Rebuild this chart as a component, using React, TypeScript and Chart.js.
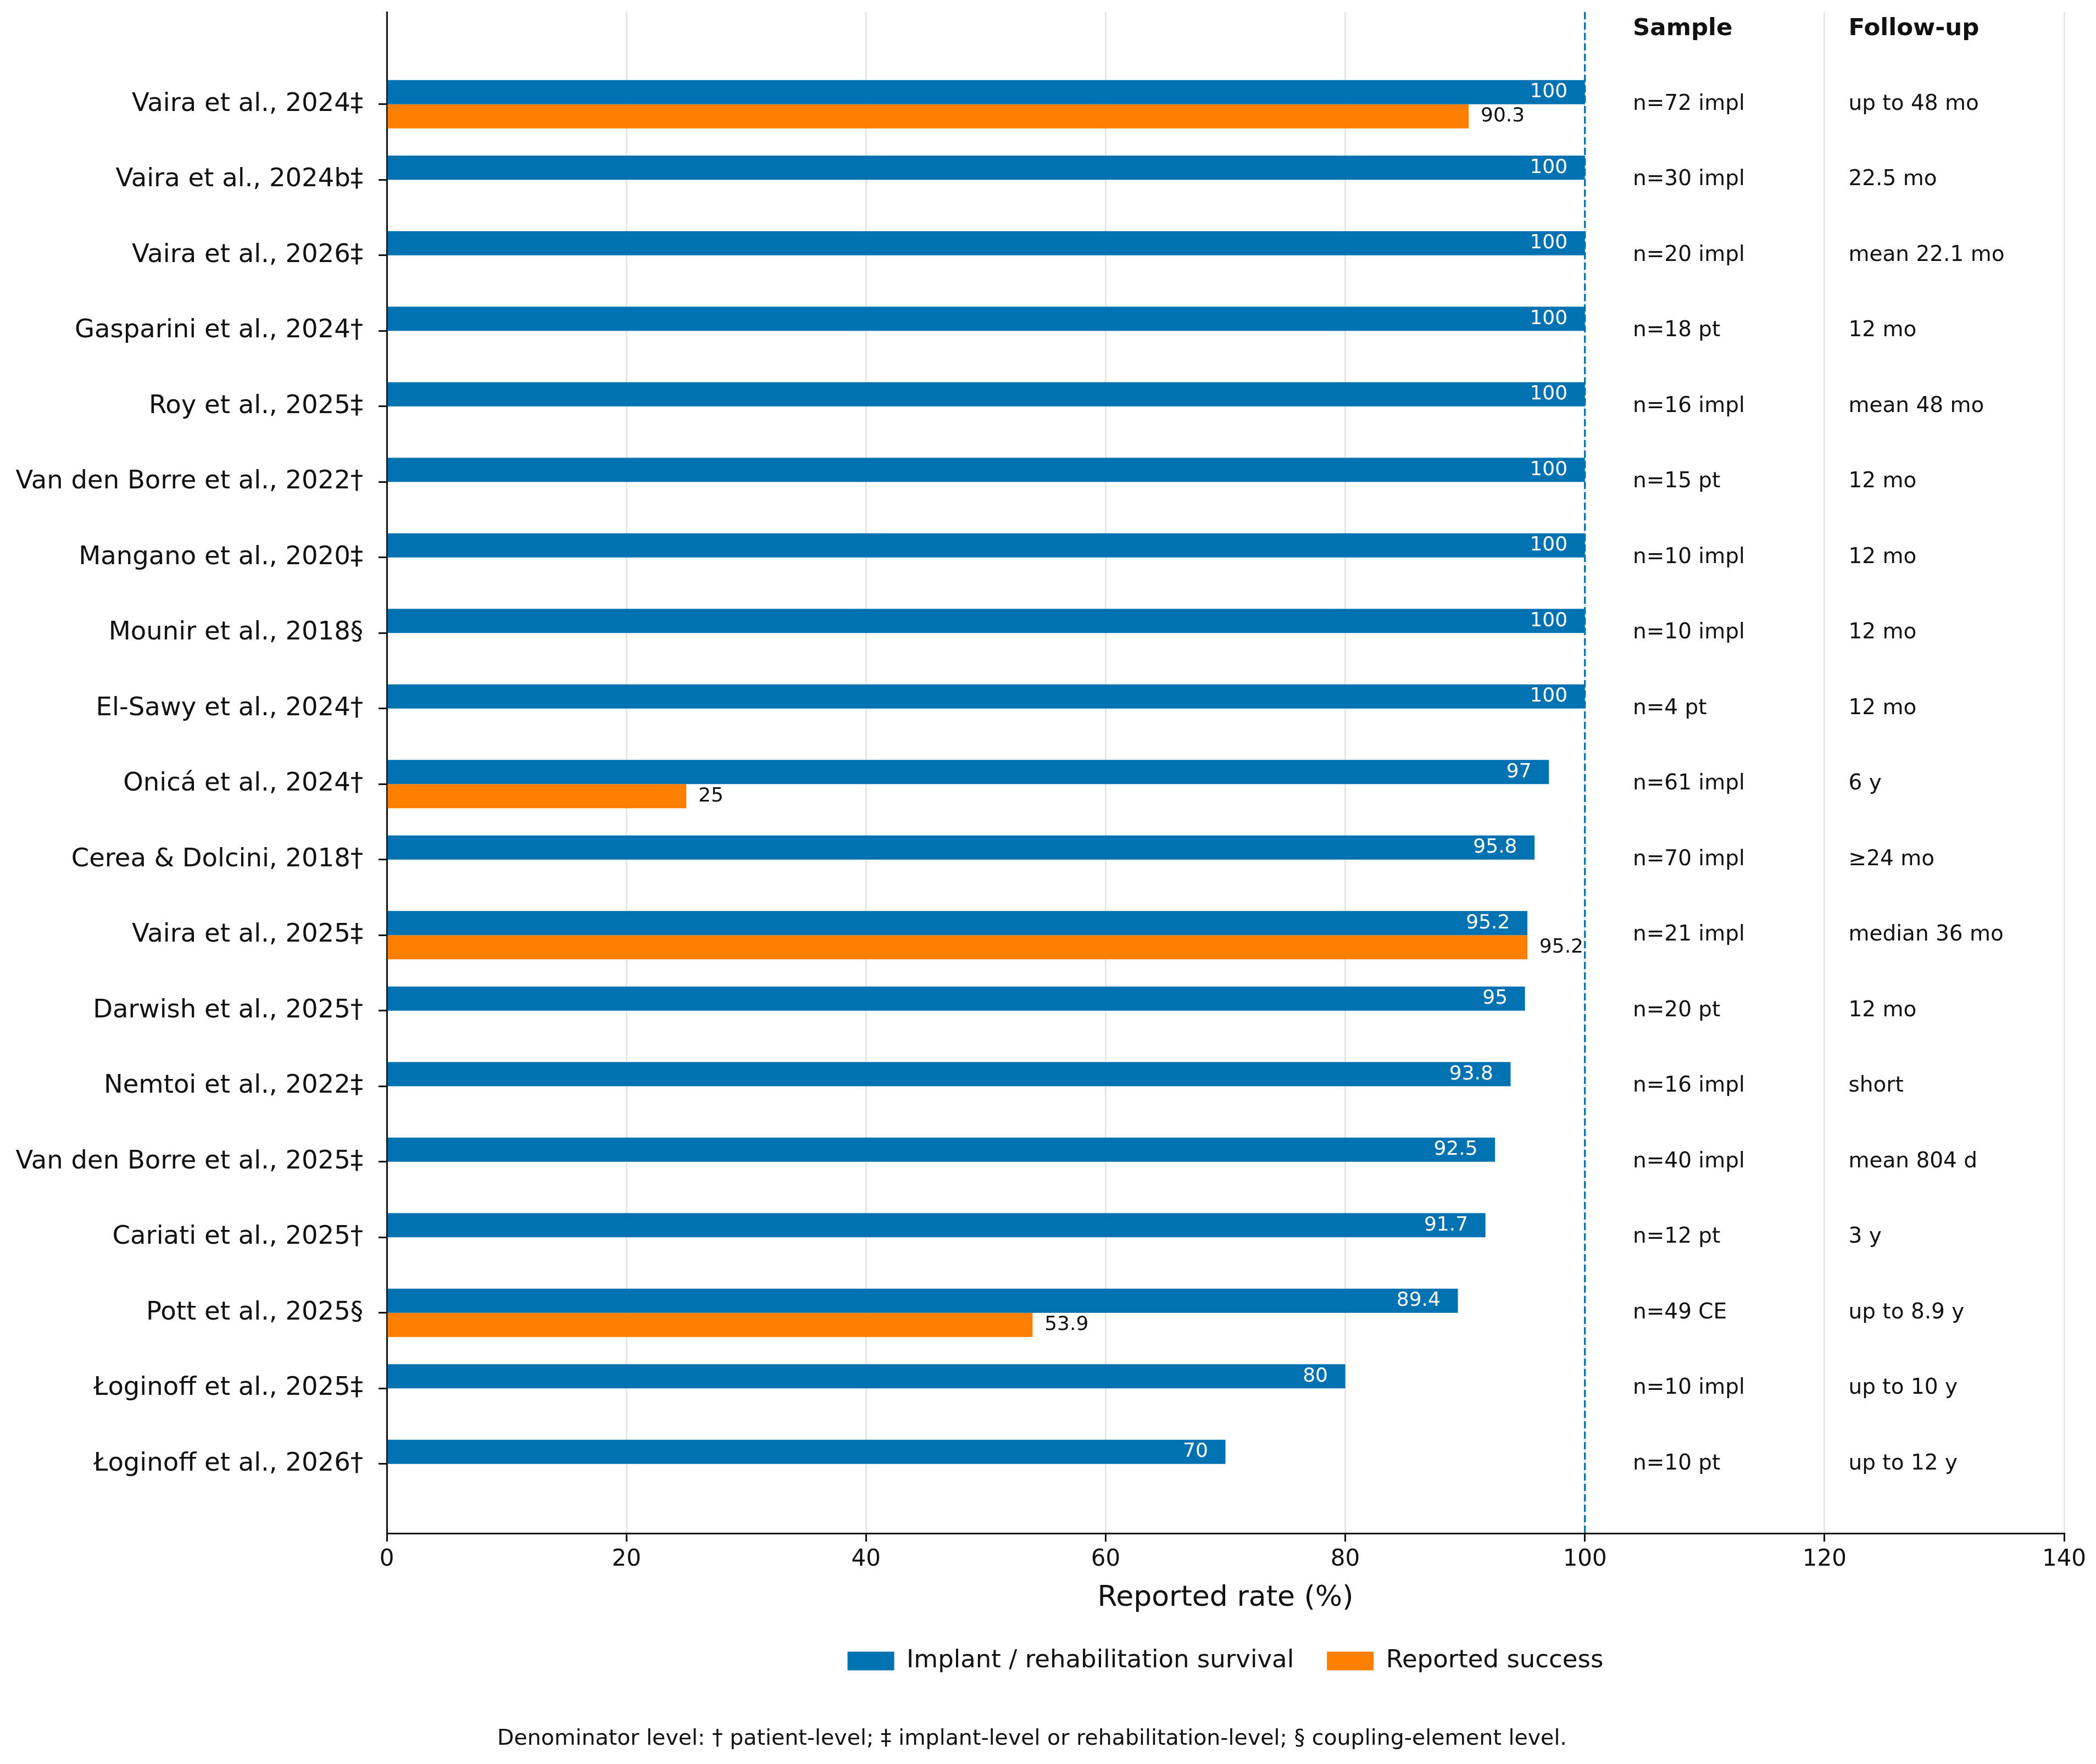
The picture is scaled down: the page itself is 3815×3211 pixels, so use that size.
import React, { useEffect, useRef } from 'react';
import { Chart, registerables } from 'chart.js';

Chart.register(...registerables);

// ---------- data ----------
const studies = [
  'Vaira et al., 2024‡',
  'Vaira et al., 2024b‡',
  'Vaira et al., 2026‡',
  'Gasparini et al., 2024†',
  'Roy et al., 2025‡',
  'Van den Borre et al., 2022†',
  'Mangano et al., 2020‡',
  'Mounir et al., 2018§',
  'El-Sawy et al., 2024†',
  'Onicá et al., 2024†',
  'Cerea & Dolcini, 2018†',
  'Vaira et al., 2025‡',
  'Darwish et al., 2025†',
  'Nemtoi et al., 2022‡',
  'Van den Borre et al., 2025‡',
  'Cariati et al., 2025†',
  'Pott et al., 2025§',
  'Łoginoff et al., 2025‡',
  'Łoginoff et al., 2026†',
];

const survivalRates = [100, 100, 100, 100, 100, 100, 100, 100, 100, 97, 95.8, 95.2, 95, 93.8, 92.5, 91.7, 89.4, 80, 70];

const successRates: (number | null)[] = [90.3, null, null, null, null, null, null, null, null, 25, null, 95.2, null, null, null, null, 53.9, null, null];

const sampleSizes = [
  'n=72 impl', 'n=30 impl', 'n=20 impl', 'n=18 pt', 'n=16 impl', 'n=15 pt', 'n=10 impl', 'n=10 impl', 'n=4 pt',
  'n=61 impl', 'n=70 impl', 'n=21 impl', 'n=20 pt', 'n=16 impl', 'n=40 impl', 'n=12 pt', 'n=49 CE', 'n=10 impl', 'n=10 pt',
];

const followUps = [
  'up to 48 mo', '22.5 mo', 'mean 22.1 mo', '12 mo', 'mean 48 mo', '12 mo', '12 mo', '12 mo', '12 mo',
  '6 y', '≥24 mo', 'median 36 mo', '12 mo', 'short', 'mean 804 d', '3 y', 'up to 8.9 y', 'up to 10 y', 'up to 12 y',
];

const tableHeaders = ['Sample', 'Follow-up'];
const seriesNames = ['Implant / rehabilitation survival', 'Reported success'];
const axisTitle = 'Reported rate (%)';
const footnote = 'Denominator level: † patient-level; ‡ implant-level or rehabilitation-level; § coupling-element level.';
const referenceRate = 100;

// ---------- styling / layout ----------
const W = 3815;
const H = 3211;
const FONT = 'DejaVu Sans';
const BLUE = '#0072B2';
const ORANGE = '#FF7F00';
const INK = '#111111';
const TABLE_COL_X = [104, 122]; // in data units of the x axis

const annotatePlugin = {
  id: 'annotate',
  beforeDatasetsDraw(chart: any) {
    const { ctx, chartArea, scales } = chart;
    const px = scales.x.getPixelForValue(referenceRate);
    ctx.save();
    ctx.strokeStyle = BLUE;
    ctx.lineWidth = 3.3;
    ctx.setLineDash([13, 6]);
    ctx.beginPath();
    ctx.moveTo(px, chartArea.top);
    ctx.lineTo(px, chartArea.bottom);
    ctx.stroke();
    ctx.restore();
  },
  afterDatasetsDraw(chart: any) {
    const { ctx, scales } = chart;
    const xs = scales.x;
    const ys = scales.y;
    ctx.save();
    ctx.textBaseline = 'middle';

    // value labels on survival bars (inside, white)
    ctx.font = `36px "${FONT}"`;
    const blueMeta = chart.getDatasetMeta(0);
    blueMeta.data.forEach((el: any, i: number) => {
      const v = (chart.data.datasets[0].data[i] as any).x as number;
      ctx.fillStyle = '#ffffff';
      ctx.textAlign = 'right';
      ctx.fillText(String(v), xs.getPixelForValue(v - 1.45), el.y);
    });
    // value labels on success bars (outside, dark)
    const orangeMeta = chart.getDatasetMeta(1);
    orangeMeta.data.forEach((el: any, j: number) => {
      const v = (chart.data.datasets[1].data[j] as any).x as number;
      ctx.fillStyle = INK;
      ctx.textAlign = 'left';
      ctx.fillText(String(v), xs.getPixelForValue(v + 1.0), el.y);
    });

    // side table
    ctx.fillStyle = INK;
    ctx.textAlign = 'left';
    ctx.font = `bold 43.5px "${FONT}"`;
    tableHeaders.forEach((h, c) => {
      ctx.fillText(h, xs.getPixelForValue(TABLE_COL_X[c]), ys.getPixelForValue(-1));
    });
    ctx.font = `39px "${FONT}"`;
    studies.forEach((_, i) => {
      const py = ys.getPixelForValue(i);
      ctx.fillText(sampleSizes[i], xs.getPixelForValue(TABLE_COL_X[0]), py);
      ctx.fillText(followUps[i], xs.getPixelForValue(TABLE_COL_X[1]), py);
    });
    ctx.restore();
  },
};

export default function App() {
  const canvasRef = useRef<HTMLCanvasElement | null>(null);

  useEffect(() => {
    const canvas = canvasRef.current;
    if (!canvas) return;
    Chart.defaults.font.family = FONT;
    Chart.defaults.color = INK;

    const survivalData = survivalRates.map((v, i) => ({ x: v, y: i }));
    const successData = successRates
      .map((v, i) => (v === null ? null : { x: v, y: i }))
      .filter((d) => d !== null) as { x: number; y: number }[];

    const chart = new Chart(canvas, {
      type: 'bar',
      data: {
        datasets: [
          {
            label: seriesNames[0],
            data: survivalData as any,
            backgroundColor: BLUE,
            borderWidth: 0,
            categoryPercentage: 0.64,
            barPercentage: 1.0,
          },
          {
            label: seriesNames[1],
            data: successData as any,
            backgroundColor: ORANGE,
            borderWidth: 0,
            categoryPercentage: 0.64,
            barPercentage: 1.0,
          },
        ],
      },
      options: {
        indexAxis: 'y',
        animation: false,
        responsive: false,
        devicePixelRatio: 1,
        events: [],
        layout: { padding: { left: 0, top: 22, right: 58, bottom: 21.6 } },
        scales: {
          x: {
            type: 'linear',
            min: 0,
            max: 140,
            ticks: { stepSize: 20, font: { size: 42 }, color: INK, padding: 8 },
            grid: {
              color: '#e6e6e6',
              lineWidth: 3,
              drawTicks: true,
              tickLength: 15,
              tickColor: INK,
              tickWidth: 3,
            },
            border: { display: true, color: INK, width: 3 },
            title: {
              display: true,
              text: axisTitle,
              font: { size: 52 },
              color: INK,
              padding: { top: 6, bottom: 0 },
            },
            afterFit: (scale: any) => {
              scale.paddingLeft = 0;
              scale.paddingRight = 0;
            },
          },
          y: {
            type: 'linear',
            reverse: true,
            offset: false,
            min: -1.22,
            max: 18.92,
            afterBuildTicks: (scale: any) => {
              scale.ticks = studies.map((_, i) => ({ value: i }));
            },
            afterFit: (scale: any) => {
              scale.width = 704;
              scale.paddingTop = 0;
              scale.paddingBottom = 0;
            },
            ticks: {
              autoSkip: false,
              font: { size: 46.5 },
              color: INK,
              padding: 28,
              callback: (v: any) => studies[Math.round(Number(v))] ?? '',
            },
            grid: {
              display: true,
              offset: false,
              drawOnChartArea: false,
              drawTicks: true,
              tickLength: 15,
              tickColor: INK,
              tickWidth: 3,
            },
            border: { display: true, color: INK, width: 3 },
          },
        },
        plugins: {
          tooltip: { enabled: false },
          legend: {
            display: true,
            position: 'bottom',
            fullSize: false,
            labels: {
              boxWidth: 85,
              boxHeight: 34,
              padding: 60,
              font: { size: 45 },
              color: INK,
            },
          },
          title: {
            display: true,
            position: 'bottom',
            fullSize: true,
            text: footnote,
            font: { size: 39.5, weight: 'normal' },
            color: INK,
            padding: { top: 86, bottom: 0 },
          },
        },
      } as any,
      plugins: [annotatePlugin],
    });

    return () => chart.destroy();
  }, []);

  return (
    <div style={{ position: 'absolute', left: 0, top: 0, width: W, height: H, background: '#ffffff' }}>
      <canvas ref={canvasRef} width={W} height={H} style={{ width: `${W}px`, height: `${H}px`, display: 'block' }} />
    </div>
  );
}
